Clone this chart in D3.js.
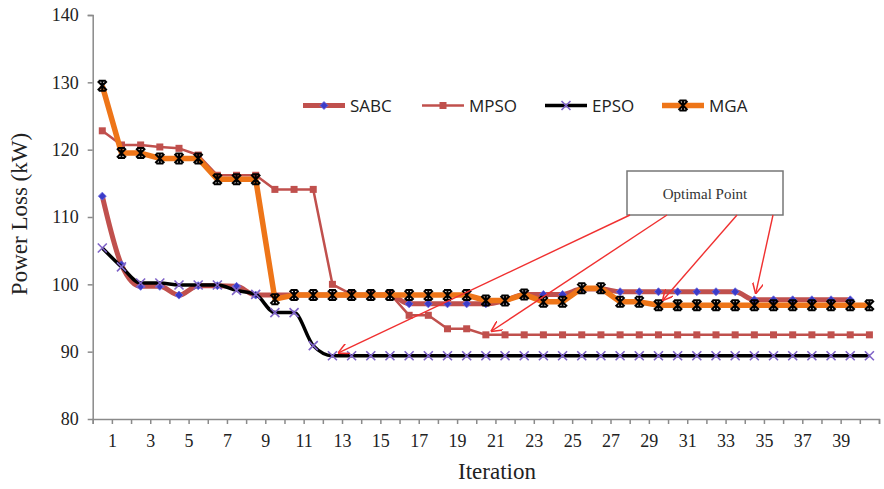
<!DOCTYPE html>
<html>
<head>
<meta charset="utf-8">
<script src="https://cdn.jsdelivr.net/npm/d3@7"></script>
<style>
  body { margin: 0; background: #fff; }
  svg { display: block; }
</style>
</head>
<body>
<svg width="884" height="489"></svg>
<script>
// iteration 1..41, one value each
const iterations = d3.range(1, 42);
const sabc = [113.1, 102.9, 99.7, 99.7, 98.4, 99.8, 99.8, 99.7, 98.4, 98.4,
  98.4, 98.4, 98.4, 98.4, 98.4, 98.4, 97.1, 97.1, 97.1, 97.1,
  97.1, 97.6, 98.5, 98.5, 98.5, 99.3, 99.3, 98.9, 98.9, 98.9,
  98.9, 98.9, 98.9, 98.9, 97.7, 97.7, 97.7, 97.7, 97.7, 97.7, null];
const mpso = [122.8, 120.7, 120.7, 120.4, 120.2, 119.2, 116.2, 116.2, 116.2, 114.1,
  114.1, 114.1, 100.0, 98.5, 98.5, 98.6, 95.4, 95.4, 93.4, 93.4,
  92.5, 92.5, 92.5, 92.5, 92.5, 92.5, 92.5, 92.5, 92.5, 92.5,
  92.5, 92.5, 92.5, 92.5, 92.5, 92.5, 92.5, 92.5, 92.5, 92.5, 92.5];
const epso = [105.4, 102.6, 100.2, 100.2, 99.9, 99.9, 99.9, 99.1, 98.5, 95.8,
  95.8, 90.9, 89.4, 89.4, 89.4, 89.4, 89.4, 89.4, 89.4, 89.4,
  89.4, 89.4, 89.4, 89.4, 89.4, 89.4, 89.4, 89.4, 89.4, 89.4,
  89.4, 89.4, 89.4, 89.4, 89.4, 89.4, 89.4, 89.4, 89.4, 89.4, 89.4];
const mga = [129.5, 119.5, 119.5, 118.7, 118.7, 118.7, 115.6, 115.6, 115.6, 97.8,
  98.4, 98.4, 98.4, 98.4, 98.4, 98.4, 98.4, 98.4, 98.4, 98.4,
  97.6, 97.6, 98.5, 97.4, 97.4, 99.4, 99.4, 97.4, 97.4, 96.9,
  96.9, 96.9, 96.9, 96.9, 96.9, 96.9, 96.9, 96.9, 96.9, 96.9, 96.9];
const xTickLabels = d3.range(1, 40, 2);
const yTicks = [80, 90, 100, 110, 120, 130, 140];

const svg = d3.select("svg");
const x = d3.scaleLinear().domain([0, 41]).range([92.7, 879]);
const y = d3.scaleLinear().domain([80, 140]).range([419, 15]);
const px = i => x(i - 0.5);   // points sit in the middle of each category slot

const axisColor = "#8a8a8a";
const serif = "'Liberation Serif', 'DejaVu Serif', serif";

// axes
const yAxis = svg.append("g").attr("transform", "translate(92.7,0)")
  .call(d3.axisLeft(y).tickValues(yTicks).tickSize(5).tickPadding(9));
yAxis.select(".domain").attr("stroke", axisColor).attr("stroke-width", 1.5);
yAxis.selectAll(".tick line").attr("stroke", axisColor).attr("stroke-width", 1.5);
yAxis.selectAll("text").attr("font-family", serif).attr("font-size", 18).attr("fill", "#222");

const xAxis = svg.append("g").attr("transform", "translate(0,419)")
  .call(d3.axisBottom(x).tickValues(d3.range(0, 42)).tickSize(5).tickPadding(10)
    .tickFormat(d => xTickLabels.includes(d) ? d : ""));
xAxis.select(".domain").attr("stroke", axisColor).attr("stroke-width", 1.5);
xAxis.selectAll(".tick line").attr("stroke", axisColor).attr("stroke-width", 1.5);
xAxis.selectAll("text").attr("font-family", serif).attr("font-size", 18).attr("fill", "#222");
yAxis.select(".tick:first-of-type line").remove();

svg.append("text")
  .attr("transform", "translate(27,214) rotate(-90)")
  .attr("text-anchor", "middle")
  .attr("font-family", serif).attr("font-size", 23).attr("fill", "#222")
  .text("Power Loss (kW)");

svg.append("text")
  .attr("x", 497).attr("y", 479)
  .attr("text-anchor", "middle")
  .attr("font-family", serif).attr("font-size", 23).attr("fill", "#222")
  .text("Iteration");

// series
const series = [
  { name: "SABC", values: sabc, color: "#C0504D", width: 5, curve: d3.curveMonotoneX, marker: "diamond" },
  { name: "MPSO", values: mpso, color: "#C0504D", width: 2.5, curve: d3.curveLinear, marker: "square" },
  { name: "EPSO", values: epso, color: "#000", width: 3.5, curve: d3.curveMonotoneX, marker: "cross" },
  { name: "MGA", values: mga, color: "#EE7518", width: 5.5, curve: d3.curveLinear, marker: "star" }
];

function drawMarker(g, type, cx, cy) {
  if (type === "diamond") {
    g.append("path").attr("d", `M${cx},${cy - 4}L${cx + 4},${cy}L${cx},${cy + 4}L${cx - 4},${cy}Z`)
      .attr("fill", "#3B3BC8").attr("stroke", "#6a6ae0").attr("stroke-width", 0.8);
  } else if (type === "square") {
    g.append("rect").attr("x", cx - 3.5).attr("y", cy - 3.5).attr("width", 7).attr("height", 7)
      .attr("fill", "#C0504D");
  } else if (type === "cross") {
    g.append("path").attr("d", `M${cx - 4.5},${cy - 4.5}L${cx + 4.5},${cy + 4.5}M${cx - 4.5},${cy + 4.5}L${cx + 4.5},${cy - 4.5}`)
      .attr("stroke", "#8064C8").attr("stroke-width", 1.6);
  } else if (type === "star") {
    g.append("path").attr("d",
      `M${cx - 4.5},${cy - 4.5}L${cx + 4.5},${cy + 4.5}M${cx - 4.5},${cy + 4.5}L${cx + 4.5},${cy - 4.5}` +
      `M${cx},${cy - 5}L${cx},${cy + 5}M${cx - 3.5},${cy - 5}L${cx + 3.5},${cy - 5}M${cx - 3.5},${cy + 5}L${cx + 3.5},${cy + 5}`)
      .attr("stroke", "#000").attr("stroke-width", 2);
  }
}

const plot = svg.append("g");
series.forEach(s => {
  const pts = iterations.map((it, i) => ({ it, v: s.values[i] })).filter(d => d.v != null);
  const line = d3.line().x(d => px(d.it)).y(d => y(d.v)).curve(s.curve);
  plot.append("path").datum(pts)
    .attr("d", line)
    .attr("fill", "none")
    .attr("stroke", s.color)
    .attr("stroke-width", s.width)
    .attr("stroke-linejoin", "round");
  const mg = plot.append("g");
  pts.forEach(d => drawMarker(mg, s.marker, px(d.it), y(d.v)));
});

// legend
const legendX = [303, 422, 545, 662];
const legend = svg.append("g");
series.forEach((s, i) => {
  const lx = legendX[i], ly = 105.5;
  legend.append("line").attr("x1", lx).attr("x2", lx + 42).attr("y1", ly).attr("y2", ly)
    .attr("stroke", s.color).attr("stroke-width", s.width);
  drawMarker(legend, s.marker, lx + 21, ly);
  legend.append("text").attr("x", lx + 47).attr("y", ly + 6)
    .attr("font-family", "'Open Sans', 'Liberation Sans', sans-serif").attr("font-size", 17)
    .attr("fill", "#222").text(s.name);
});

// annotation
svg.append("defs").append("marker")
  .attr("id", "arrow")
  .attr("viewBox", "0 -5 10 10")
  .attr("refX", 10).attr("refY", 0)
  .attr("markerWidth", 11).attr("markerHeight", 11)
  .attr("markerUnits", "userSpaceOnUse")
  .attr("orient", "auto")
  .append("path")
  .attr("d", "M0,-5L10,0L0,5")
  .attr("fill", "none").attr("stroke", "#F03030").attr("stroke-width", 1.4);

const box = { x: 627, y: 171, w: 156, h: 44 };
svg.append("rect").attr("x", box.x).attr("y", box.y).attr("width", box.w).attr("height", box.h)
  .attr("fill", "#fff").attr("stroke", "#777").attr("stroke-width", 1.5);
svg.append("text").attr("x", box.x + box.w / 2).attr("y", box.y + 28)
  .attr("text-anchor", "middle").attr("font-family", serif).attr("font-size", 15)
  .attr("fill", "#333").text("Optimal Point");

const arrows = [
  { from: [630, 215], it: 13, v: epso[12] },
  { from: [667, 215], it: 21, v: mpso[20] },
  { from: [737, 215], it: 30, v: mga[29] },
  { from: [773, 215], it: 35, v: sabc[34] }
];
arrows.forEach(a => {
  const tx = px(a.it), ty = y(a.v);
  const dx = tx - a.from[0], dy = ty - a.from[1];
  const len = Math.hypot(dx, dy);
  const k = (len - 6) / len;
  svg.append("line")
    .attr("x1", a.from[0]).attr("y1", a.from[1])
    .attr("x2", a.from[0] + dx * k).attr("y2", a.from[1] + dy * k)
    .attr("stroke", "#F03030").attr("stroke-width", 1.4)
    .attr("marker-end", "url(#arrow)");
});
</script>
</body>
</html>
